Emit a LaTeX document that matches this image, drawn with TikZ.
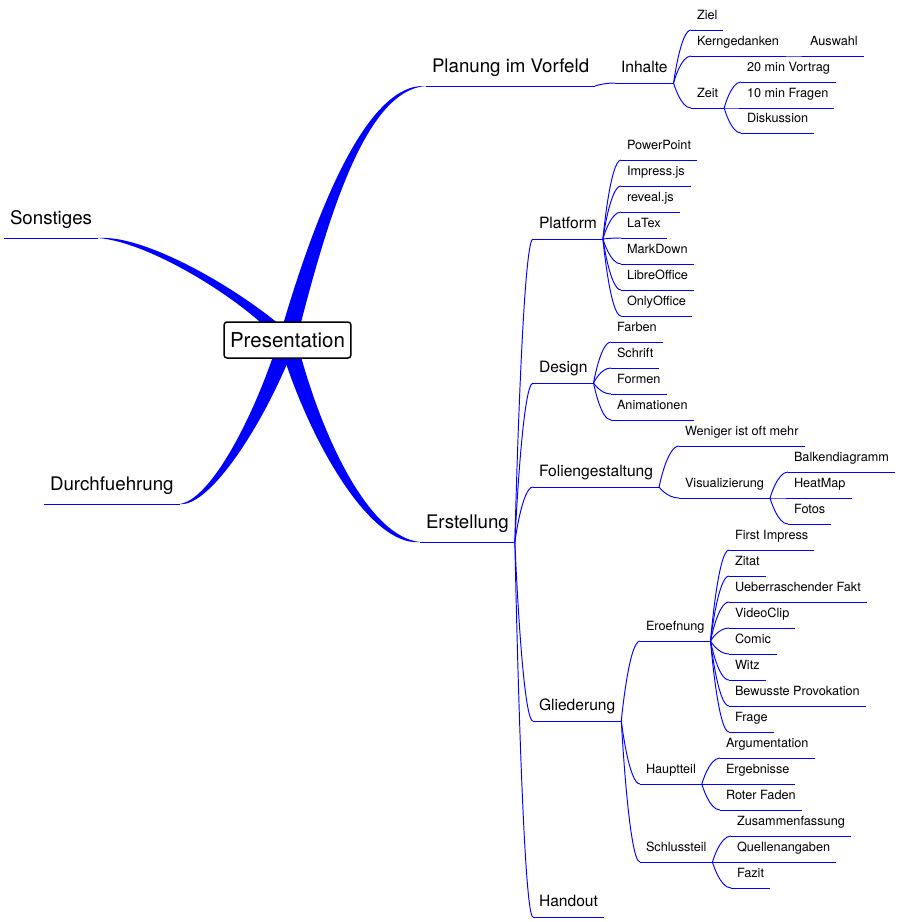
\documentclass[tikz,border=0pt]{standalone}
\usepackage{fontspec}
\setmainfont{TeX Gyre Heros}
\usetikzlibrary{calc}
\pgfdeclarelayer{bg}
\pgfsetlayers{bg,main}
\begin{document}
\begin{tikzpicture}[x=1pt,y=-1pt,
  ul/.style={draw=blue, line width=1pt},
  tnode/.style={anchor=south west, inner xsep=6pt, inner ysep=0pt, outer sep=0pt, text height=10pt,
     append after command={(\tikzlastnode.south west) edge[ul] (\tikzlastnode.south east)}},
  lone/.style={tnode, font=\fontsize{18.7}{22}\selectfont, text depth=13.5pt},
  ltwo/.style={tnode, font=\fontsize{15.6}{19}\selectfont, text depth=11pt},
  lthree/.style={tnode, font=\fontsize{12.7}{15}\selectfont, text depth=11pt},
  conn/.style={draw=blue, line width=0.95pt, to path={let \p1=(\tikztostart), \p2=(\tikztotarget) in .. controls (\p1) and ({\x1+0.4*(\x2-\x1)},\y2) .. (\p2)}},
  branch/.style={fill=blue},
  center/.style={draw=black, line width=1.5pt, rounded corners=3pt, fill=white, font=\fontsize{20.5}{24}\selectfont, inner xsep=6pt, inner ysep=0pt, minimum height=36pt},
]
\useasboundingbox (0,0) rectangle (900,922);

\node[center] (pres) at (287.5,340) {Presentation};

% level 1
\node[lone] (plan) at (426,86) {Planung im Vorfeld};
\node[lone] (erst) at (420,542) {Erstellung};
\node[lone] (sonst) at (4,238) {Sonstiges};
\node[lone] (durch) at (44,504) {Durchfuehrung};

% level 2
\node[ltwo] (inh) at (615,83) {Inhalte};
\node[ltwo] (plat) at (533,239) {Platform};
\node[ltwo] (des) at (533,383) {Design};
\node[ltwo] (fol) at (533,487) {Foliengestaltung};
\node[ltwo] (glied) at (533,721) {Gliederung};
\node[ltwo] (hand) at (533,917) {Handout};

% level 3+
\node[lthree] (ziel) at (691,30) {Ziel};
\node[lthree] (kern) at (691,56) {Kerngedanken};
\node[lthree] (zeit) at (691,108) {Zeit};
\node[lthree] (ausw) at (804,56) {Auswahl};
\node[lthree] (vor) at (741,82) {20 min Vortrag};
\node[lthree] (fra) at (741,108) {10 min Fragen};
\node[lthree] (disk) at (741,133) {Diskussion};
\node[lthree] (pp) at (621,160) {PowerPoint};
\node[lthree] (imp) at (621,186) {Impress.js};
\node[lthree] (rev) at (621,212) {reveal.js};
\node[lthree] (ltx) at (621,238) {LaTex};
\node[lthree] (md) at (621,264) {MarkDown};
\node[lthree] (lo) at (621,290) {LibreOffice};
\node[lthree] (oo) at (621,316) {OnlyOffice};
\node[lthree] (farb) at (611,342) {Farben};
\node[lthree] (schr) at (611,368) {Schrift};
\node[lthree] (form) at (611,394) {Formen};
\node[lthree] (anim) at (611,420) {Animationen};
\node[lthree] (wen) at (679,446) {Weniger ist oft mehr};
\node[lthree] (vis) at (679,498) {Visualizierung};
\node[lthree] (balk) at (788,472) {Balkendiagramm};
\node[lthree] (heat) at (788,498) {HeatMap};
\node[lthree] (fotos) at (788,524) {Fotos};
\node[lthree] (eroef) at (640,641) {Eroefnung};
\node[lthree] (haupt) at (640,784) {Hauptteil};
\node[lthree] (schl) at (640,862) {Schlussteil};
\node[lthree] (first) at (729,550) {First Impress};
\node[lthree] (zitat) at (729,576) {Zitat};
\node[lthree] (ueber) at (729,602) {Ueberraschender Fakt};
\node[lthree] (video) at (729,628) {VideoClip};
\node[lthree] (comic) at (729,654) {Comic};
\node[lthree] (witz) at (729,680) {Witz};
\node[lthree] (bew) at (729,706) {Bewusste Provokation};
\node[lthree] (frage) at (729,732) {Frage};
\node[lthree] (arg) at (720,758) {Argumentation};
\node[lthree] (erg) at (720,784) {Ergebnisse};
\node[lthree] (roter) at (720,810) {Roter Faden};
\node[lthree] (zus) at (731,836) {Zusammenfassung};
\node[lthree] (quell) at (731,862) {Quellenangaben};
\node[lthree] (fazit) at (731,888) {Fazit};

\foreach \a/\b in {plan/inh, inh/ziel, inh/kern, inh/zeit, kern/ausw, zeit/vor, zeit/fra, zeit/disk,
  erst/plat, erst/des, erst/fol, erst/glied, erst/hand,
  plat/pp, plat/imp, plat/rev, plat/ltx, plat/md, plat/lo, plat/oo,
  des/farb, des/schr, des/form, des/anim,
  fol/wen, fol/vis, vis/balk, vis/heat, vis/fotos,
  glied/eroef, glied/haupt, glied/schl,
  eroef/first, eroef/zitat, eroef/ueber, eroef/video, eroef/comic, eroef/witz, eroef/bew, eroef/frage,
  haupt/arg, haupt/erg, haupt/roter, schl/zus, schl/quell, schl/fazit}
  \draw[conn] (\a.south east) to (\b.south west);

\begin{pgfonlayer}{bg}
\fill[branch] ($(pres.center)+(-9,0)$) .. controls (313,220) and (365,82) .. (plan.south west)
   .. controls (365,90) and (327,220) .. ($(pres.center)+(9,0)$) -- cycle;
\fill[branch] ($(pres.center)+(-9,0)$) .. controls (308,440) and (370,547) .. (erst.south west)
   .. controls (370,537) and (322,440) .. ($(pres.center)+(9,0)$) -- cycle;
\fill[branch] ($(pres.center)+(9,0)$) .. controls (257,300) and (150,234) .. (sonst.south east)
   .. controls (150,242) and (243,300) .. ($(pres.center)+(-9,0)$) -- cycle;
\fill[branch] ($(pres.center)+(9,0)$) .. controls (267,420) and (210,508) .. (durch.south east)
   .. controls (210,500) and (253,420) .. ($(pres.center)+(-9,0)$) -- cycle;
\end{pgfonlayer}
\end{tikzpicture}
\end{document}
